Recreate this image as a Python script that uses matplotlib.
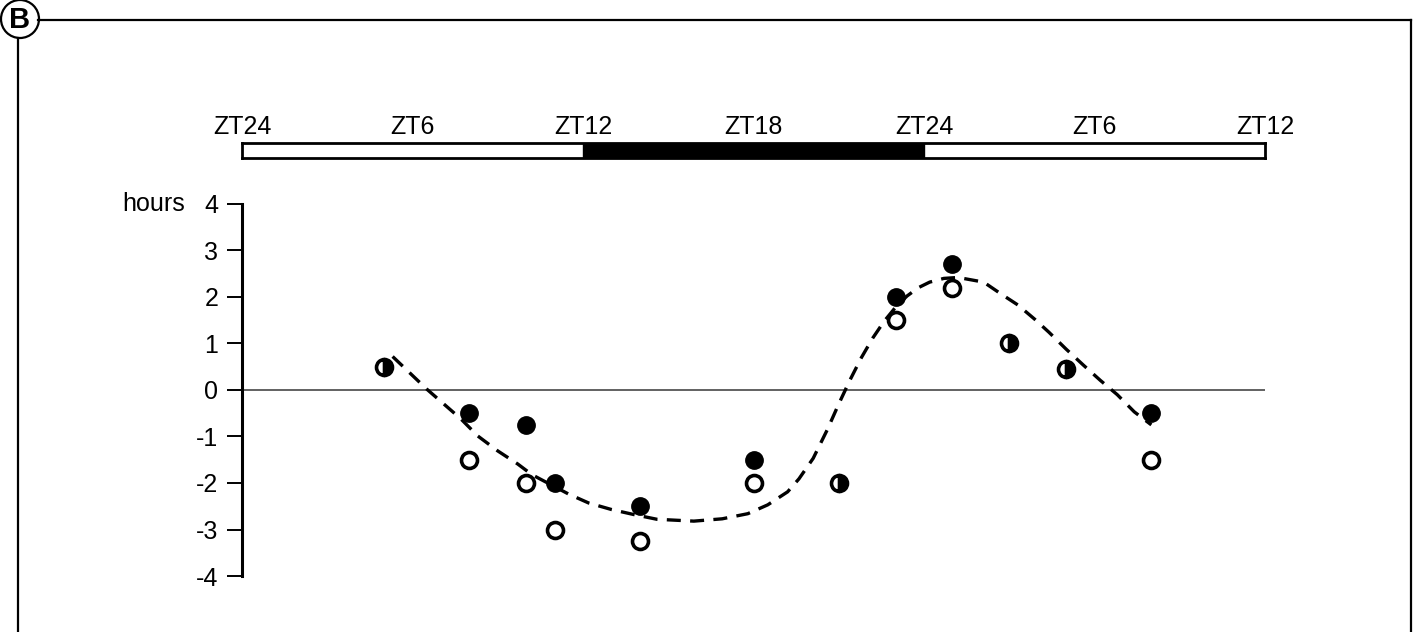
import matplotlib
matplotlib.use("Agg")
import matplotlib.pyplot as plt
from matplotlib.patches import Circle, Rectangle

plt.rcParams["font.family"] = ["Liberation Sans", "DejaVu Sans"]

W, H = 1417, 632

# light/dark schedule bar
zt_pos = [0, 6, 12, 18, 24, 30, 36]
zt_labels = ["ZT24", "ZT6", "ZT12", "ZT18", "ZT24", "ZT6", "ZT12"]
dark_start, dark_end = 12, 24

# phase shifts (hours) at each time point
pair_hours = [8, 10, 11, 14, 18, 23, 25, 32]
filled_vals = [-0.5, -0.75, -2.0, -2.5, -1.5, 2.0, 2.7, -0.5]
open_vals = [-1.5, -2.0, -3.0, -3.25, -2.0, 1.5, 2.2, -1.5]
half_hours = [5, 21, 27, 29]
half_vals = [0.5, -2.0, 1.0, 0.45]

# fitted curve, read point by point
curve_h = [5.3, 6.5, 7.7, 8.3, 9.0, 9.7, 10.2, 11.5, 12.2, 13.0, 13.8, 14.6,
           15.9, 16.9, 17.8, 18.5, 19.2, 19.6, 20.1, 20.6, 21.0, 21.4, 21.8,
           22.2, 22.6, 23.0, 23.4, 23.8, 24.2, 24.7, 25.2, 26.1, 26.7, 27.3,
           27.9, 28.4, 29.0, 29.6, 30.2, 30.8, 31.4, 32.0]
curve_v = [0.72, 0.02, -0.62, -0.99, -1.31, -1.59, -1.82, -2.24, -2.43, -2.57,
           -2.68, -2.78, -2.82, -2.77, -2.66, -2.47, -2.19, -1.91, -1.47, -0.85,
           -0.30, 0.22, 0.70, 1.12, 1.48, 1.78, 2.02, 2.20, 2.32, 2.40, 2.42,
           2.32, 2.07, 1.83, 1.52, 1.24, 0.88, 0.54, 0.21, -0.10, -0.47, -0.75]
y_ticks = [4, 3, 2, 1, 0, -1, -2, -3, -4]

FS = 18


def px_box(x0, y0, x1, y1):
    return [x0 / W, 1 - y1 / H, (x1 - x0) / W, (y1 - y0) / H]


fig = plt.figure(figsize=(W / 100, H / 100), dpi=100)

# panel frame with the "B" badge, drawn in pixel units
frame = fig.add_axes([0, 0, 1, 1])
frame.set_xlim(0, W)
frame.set_ylim(H, 0)
frame.axis("off")
frame.plot([38, 1411], [20, 20], color="black", lw=1.6)
frame.plot([1411, 1411], [20, H + 5], color="black", lw=1.6)
frame.plot([18, 18], [38, H + 5], color="black", lw=1.6)
frame.add_patch(Circle((20, 19), 19, facecolor="white", edgecolor="black", lw=1.6))
frame.text(20, 20, "B", ha="center", va="center", fontsize=21, fontweight="bold")

# schedule bar
bar = fig.add_axes(px_box(242, 143, 1265, 158))
bar.set_xlim(zt_pos[0], zt_pos[-1])
bar.set_ylim(0, 1)
bar.add_patch(Rectangle((dark_start, 0), dark_end - dark_start, 1, color="black"))
for s in bar.spines.values():
    s.set_linewidth(2)
bar.set_yticks([])
bar.xaxis.tick_top()
bar.set_xticks(zt_pos)
bar.set_xticklabels(zt_labels, fontsize=FS)
bar.tick_params(axis="x", length=0, pad=3)

# main plot
ax = fig.add_axes(px_box(242, 204, 1265, 576))
ax.set_xlim(0, 36)
ax.set_ylim(-4, 4)
for side in ["top", "right", "bottom"]:
    ax.spines[side].set_visible(False)
ax.spines["left"].set_linewidth(2.2)
ax.set_xticks([])
ax.set_yticks(y_ticks)
ax.set_yticklabels([str(t) for t in y_ticks], fontsize=FS)
ax.tick_params(axis="y", length=11, width=1.4, pad=6)
ax.text(-0.056, 4, "hours", transform=ax.get_yaxis_transform(), ha="right",
        va="center", fontsize=FS)

ax.axhline(0, color="#555555", lw=1.3, zorder=1)

ax.plot(curve_h, curve_v, color="black", lw=2.4, dashes=(4.2, 2.8), zorder=2)

ax.plot(pair_hours, filled_vals, "o", ms=12.5, color="black", mec="black", zorder=3)
ax.plot(pair_hours, open_vals, "o", ms=11.5, mfc="white", mec="black", mew=2.6, zorder=3)
ax.plot(half_hours, half_vals, "o", ms=11.5, fillstyle="right", mfc="black",
        markerfacecoloralt="white", mec="black", mew=2.6, zorder=3)

fig.savefig("out.png", dpi=100, facecolor="white")
